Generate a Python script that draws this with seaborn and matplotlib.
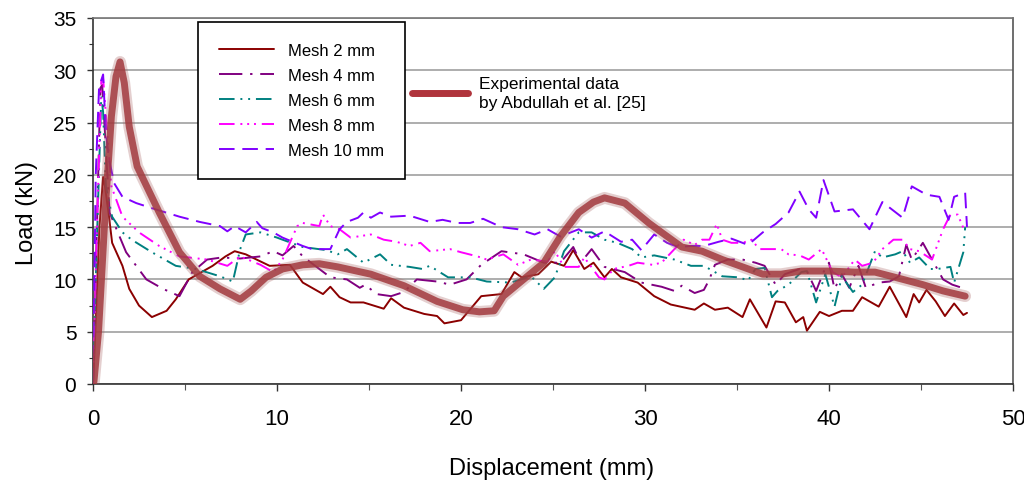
import numpy as np
import pandas as pd
import matplotlib
matplotlib.use("Agg")
import matplotlib.pyplot as plt
import seaborn as sns

# ---------------- data ----------------
mesh2_x = [0, 0.15, 0.35, 0.55, 0.65, 0.87, 1.04, 1.6, 1.97, 2.5, 3.2, 4.0, 4.5, 5.2, 6.5, 7.2, 7.7, 8.3,
           9.6, 10.7, 11.4, 12.5, 12.9, 13.4, 14.0, 14.7, 15.8, 16.2, 16.9, 18.0, 18.7, 19.1, 20.0, 21.1,
           22.2, 22.9, 23.3, 24.2, 24.9, 25.6, 26.1, 26.7, 27.2, 27.8, 28.2, 28.7, 29.6, 30.5, 31.4, 32.7,
           33.2, 33.8, 34.5, 35.3, 35.7, 36.6, 37.1, 37.6, 38.2, 38.6, 38.8, 39.5, 40.0, 40.7, 41.3, 41.8,
           42.7, 43.3, 44.2, 44.6, 44.9, 45.3, 45.8, 46.3, 46.8, 47.3, 47.5]
mesh2_y = [0, 6, 15, 19.8, 18.9, 16.0, 13.5, 11.3, 9.1, 7.5, 6.4, 7.0, 8.1, 10.0, 11.3, 12.2, 12.7, 12.4,
           11.3, 11.4, 9.7, 8.6, 9.3, 8.3, 7.8, 7.8, 7.2, 8.2, 7.3, 6.7, 6.5, 5.8, 6.1, 8.4,
           8.6, 10.7, 10.2, 10.5, 11.7, 11.3, 12.8, 11.0, 11.6, 10.2, 11.0, 10.2, 9.7, 8.4, 7.6, 7.1,
           7.7, 7.1, 7.3, 6.4, 8.1, 5.4, 7.9, 7.8, 5.9, 6.4, 5.1, 6.9, 6.5, 7.0, 7.0, 8.3,
           7.4, 9.3, 6.4, 8.6, 7.8, 9.0, 7.9, 6.5, 7.7, 6.6, 6.8]

mesh4_x = [0, 0.2, 0.4, 0.5, 0.9, 1.8, 2.9, 3.8, 4.7, 5.4, 6.2, 7.0, 8.0, 9.1, 9.8, 10.3, 10.9, 11.4,
           12.3, 12.9, 13.8, 14.5, 14.8, 15.4, 16.2, 16.9, 17.6, 18.7, 19.4, 20.3, 21.1, 22.2, 23.4,
           24.5, 25.4, 26.1, 26.5, 27.1, 27.8, 28.9, 29.8, 30.9, 31.6, 32.0, 32.7, 33.2, 33.5, 33.8,
           34.5, 35.3, 36.0, 36.5, 37.1, 37.6, 38.4, 38.8, 39.3, 39.7, 40.0, 40.3, 40.7, 41.1, 41.6,
           42.0, 42.7, 43.3, 43.8, 44.2, 44.5, 45.1, 45.6, 46.2, 46.7, 47.4]
mesh4_y = [0, 14, 28.3, 28.6, 16.4, 12.6, 10.0, 9.1, 8.4, 10.7, 11.9, 12.1, 12.0, 12.2, 12.7, 12.3, 13.2, 12.2,
           11.0, 10.2, 10.0, 9.2, 9.5, 8.6, 8.4, 8.8, 10.0, 9.8, 9.5, 10.0, 11.4, 12.7, 12.4,
           11.6, 11.6, 13.1, 11.6, 12.9, 11.2, 10.7, 9.7, 9.3, 8.9, 9.4, 8.7, 9.0, 10.0, 11.4,
           11.9, 11.9, 11.6, 11.3, 9.5, 10.5, 11.0, 10.8, 8.9, 10.7, 11.6, 9.1, 10.5, 9.2, 11.3,
           9.2, 9.7, 9.8, 10.3, 13.3, 11.9, 13.5, 11.9, 10.0, 9.5, 9.1]

mesh6_x = [0, 0.2, 0.45, 0.55, 0.7, 1.04, 1.6, 2.1, 3.2, 4.5, 5.6, 6.9, 7.6, 8.0, 8.3, 9.1, 10.0, 10.3,
           11.4, 12.7, 13.3, 13.8, 14.7, 15.6, 16.2, 17.2, 17.9, 18.3, 19.3, 20.5, 21.4, 22.7, 23.8,
           24.5, 25.1, 25.6, 26.4, 27.1, 27.8, 28.5, 29.3, 29.8, 30.5, 31.6, 32.5, 33.2, 33.8, 34.2,
           35.1, 35.6, 36.0, 36.5, 36.9, 37.2, 37.8, 38.5, 38.8, 39.3, 39.8, 40.3, 40.7, 41.3, 41.8,
           42.5, 42.9, 43.6, 44.0, 44.4, 44.9, 45.5, 45.9, 46.6, 46.8, 47.3, 47.4]
mesh6_y = [0, 13, 27.5, 26, 18.9, 16, 14.5, 13.8, 12.6, 11.3, 11.0, 10.3, 9.8, 12.9, 14.3, 14.5, 14.0, 13.8,
           13.1, 12.8, 12.4, 12.9, 11.6, 12.4, 11.4, 11.2, 11.0, 11.3, 10.2, 10.2, 9.8, 9.7, 10.3,
           9.1, 10.2, 12.7, 14.5, 14.5, 13.8, 13.5, 12.9, 12.1, 12.3, 11.9, 11.3, 11.3, 10.7, 10.3,
           10.2, 9.9, 11.0, 11.1, 8.3, 8.9, 9.5, 10.7, 10.8, 7.8, 10.5, 7.4, 10.3, 8.8, 9.5,
           12.7, 12.1, 12.4, 12.7, 11.6, 12.1, 11.0, 11.0, 11.2, 9.7, 12.6, 15.0]

mesh8_x = [0, 0.2, 0.45, 0.55, 1.0, 1.6, 2.5, 3.6, 4.7, 6.2, 7.3, 8.0, 9.1, 9.8, 10.3, 11.1, 11.4, 12.3,
           12.5, 12.9, 13.4, 14.0, 15.1, 15.8, 16.5, 17.2, 17.8, 18.3, 19.4, 20.0, 20.9, 21.4, 22.3,
           23.1, 23.8, 24.7, 25.1, 25.6, 26.4, 26.7, 27.5, 27.8, 28.3, 29.1, 29.6, 30.4, 30.9, 31.6,
           32.1, 32.7, 33.1, 33.5, 33.9, 34.2, 34.7, 35.3, 35.8, 36.2, 36.7, 37.4, 37.8, 38.4, 38.9,
           39.6, 40.2, 40.7, 41.4, 41.8, 42.4, 42.9, 43.5, 44.0, 44.4, 44.9, 45.6, 46.2, 46.6, 47.0, 47.4]
mesh8_y = [0, 14, 29.0, 29.2, 18.9, 16.0, 14.5, 13.2, 12.2, 11.9, 11.3, 12.2, 11.4, 10.7, 11.9, 15.1, 15.4, 15.1,
           16.2, 15.1, 14.8, 14.0, 14.3, 13.8, 13.6, 13.2, 13.5, 12.7, 12.9, 12.6, 12.2, 11.9, 12.4,
           11.4, 11.9, 11.7, 12.7, 11.2, 11.2, 12.1, 10.2, 10.0, 11.0, 11.3, 11.6, 11.4, 11.6, 12.9,
           13.8, 13.3, 13.8, 13.8, 15.3, 13.8, 13.5, 13.5, 13.8, 12.9, 12.9, 12.9, 12.4, 12.3, 11.9,
           12.9, 10.7, 10.2, 11.9, 11.3, 11.6, 12.9, 13.8, 13.8, 12.9, 12.7, 11.9, 14.8, 16.2, 16.2, 14.5]

mesh10_x = [0, 0.15, 0.33, 0.55, 0.7, 0.87, 1.15, 1.6, 2.35, 3.4, 4.7, 5.8, 6.9, 7.3, 7.7, 8.3, 8.9, 9.2,
            9.8, 10.3, 11.4, 11.9, 12.9, 13.4, 13.8, 14.4, 14.7, 15.1, 15.6, 16.2, 17.2, 18.3, 19.0,
            19.8, 20.5, 21.2, 22.2, 23.1, 24.0, 24.7, 25.4, 26.4, 27.1, 27.8, 28.7, 29.3, 29.8, 30.5,
            31.2, 31.8, 32.5, 33.2, 34.0, 34.7, 35.3, 35.6, 36.4, 37.1, 37.8, 38.4, 38.9, 39.3, 39.7,
            40.3, 41.3, 42.2, 42.9, 44.0, 44.5, 45.3, 46.0, 46.5, 46.8, 47.4, 47.5]
mesh10_y = [0, 20, 28.4, 29.6, 24.0, 21.5, 19.2, 17.9, 17.3, 16.7, 16.0, 15.5, 15.1, 14.6, 15.1, 14.5, 15.5, 14.9,
            14.5, 14.0, 13.2, 12.9, 12.9, 14.8, 15.5, 15.9, 16.4, 15.9, 16.4, 16.0, 16.1, 15.5, 15.7,
            15.4, 15.4, 15.8, 15.0, 14.8, 14.3, 14.8, 14.1, 14.8, 14.0, 14.6, 13.6, 13.8, 12.8, 14.3,
            13.5, 13.1, 13.2, 13.2, 13.6, 13.9, 13.5, 13.3, 14.5, 15.3, 16.4, 18.4, 16.7, 15.9, 19.5,
            16.5, 16.7, 14.8, 17.4, 15.9, 18.9, 18.1, 17.9, 15.7, 17.9, 18.3, 15.0]

exp_x = [0.05, 0.3, 0.5, 0.7, 1.0, 1.25, 1.47, 1.7, 1.97, 2.4, 3.0, 3.6, 4.7, 5.8, 6.9, 8.0, 8.6, 9.4,
         10.3, 11.4, 12.3, 13.3, 15.1, 16.9, 18.7, 20.1, 21.0, 21.8, 22.3, 23.4, 24.5, 25.4, 26.4,
         27.2, 27.8, 28.9, 30.2, 30.9, 32.0, 33.1, 34.2, 35.3, 36.4, 37.4, 38.5, 40.0, 41.4, 42.5,
         43.6, 45.1, 46.2, 47.4]
exp_y = [0.2, 5, 11.3, 17.6, 25.6, 29.4, 30.8, 28.8, 24.6, 20.8, 18.6, 16.4, 12.6, 10.3, 9.1, 8.1, 8.9, 10.2,
         11.0, 11.4, 11.5, 11.2, 10.5, 9.4, 7.9, 7.1, 6.9, 7.0, 8.4, 10.0, 11.6, 14.1, 16.4,
         17.4, 17.8, 17.3, 15.4, 14.5, 13.1, 12.7, 11.9, 11.2, 10.5, 10.5, 10.8, 10.8, 10.7, 10.7,
         10.2, 9.5, 8.9, 8.4]

x_ticks = [0, 10, 20, 30, 40, 50]
y_ticks = [0, 5, 10, 15, 20, 25, 30, 35]
mesh_labels = ["Mesh 2 mm", "Mesh 4 mm", "Mesh 6 mm", "Mesh 8 mm", "Mesh 10 mm"]
exp_label = "Experimental data\nby Abdullah et al. [25]"

# ---------------- styling ----------------
sns.set_theme(style="white")
plt.rcParams["font.family"] = ["Liberation Sans", "DejaVu Sans"]
plt.rcParams["text.color"] = "black"

fig = plt.figure(figsize=(10.24, 4.89), dpi=100)
ax = fig.add_axes([93 / 1024, 1 - 385 / 489, 920 / 1024, 366 / 489])

series = [
    (mesh2_x, mesh2_y, "#8B0000", "-"),
    (mesh4_x, mesh4_y, "#800080", (0, (12, 4, 1.2, 4))),
    (mesh6_x, mesh6_y, "#008080", (0, (8, 3, 1, 3, 1, 3))),
    (mesh8_x, mesh8_y, "#FF00FF", (0, (8, 3, 1, 2.5, 1, 2.5, 1, 3))),
    (mesh10_x, mesh10_y, "#8000FF", (0, (8, 4))),
]

handles = []
for (xs, ys, col, ls), lab in zip(series, mesh_labels):
    df = pd.DataFrame({"x": xs, "y": ys})
    sns.lineplot(data=df, x="x", y="y", ax=ax, color=col, linewidth=1.4,
                 sort=False, estimator=None, linestyle=ls, zorder=3)
    handles.append(ax.lines[-1])

# experimental (thick, softened)
dfe = pd.DataFrame({"x": exp_x, "y": exp_y})
sns.lineplot(data=dfe, x="x", y="y", ax=ax, color="#A86060", linewidth=8.5, alpha=0.3,
             sort=False, estimator=None, zorder=4, solid_capstyle="round")
sns.lineplot(data=dfe, x="x", y="y", ax=ax, color="#A23A3E", linewidth=5, alpha=0.85,
             sort=False, estimator=None, zorder=5, solid_capstyle="round")
exp_handle = plt.Line2D([], [], color="#B0343C", linewidth=5)

ax.set_xlim(0, 50)
ax.set_ylim(0, 35)
ax.set_xticks(x_ticks)
ax.set_yticks(y_ticks)
ax.set_xticks(np.arange(5, 50, 10), minor=True)
ax.set_yticks(np.arange(2.5, 35, 5), minor=True)
ax.tick_params(axis="y", which="major", direction="out", length=4, width=1, color="#333333",
               labelsize=15, pad=8, left=True, labelcolor="black")
ax.tick_params(axis="y", which="minor", direction="out", length=3, width=0.8, color="#333333", left=True)
ax.tick_params(axis="x", which="major", direction="out", length=5, width=1, color="#333333",
               labelsize=16, pad=12, bottom=True, labelcolor="black")
ax.tick_params(axis="x", which="minor", direction="out", length=4, width=0.8, color="#555555", bottom=True)

ax.yaxis.grid(True, color="#A0A0A0", linewidth=1.2)
ax.xaxis.grid(False)
for s in ax.spines.values():
    s.set_color("#333333")
    s.set_linewidth(1.2)
ax.spines["right"].set_color("#555555")
ax.spines["top"].set_color("#777777")

ax.set_xlabel("Displacement (mm)", fontsize=17, color="black")
ax.set_ylabel("Load (kN)", fontsize=17, color="black")
ax.xaxis.set_label_coords(0.498, -0.20)
ax.yaxis.set_label_coords(-0.06, 0.47)

leg1 = ax.legend(handles, mesh_labels, loc="upper left",
                 bbox_to_anchor=(198 / 1024, 1 - 23 / 489), bbox_transform=fig.transFigure,
                 borderaxespad=0, fontsize=12, frameon=True, fancybox=False,
                 edgecolor="black", framealpha=1, handlelength=3.3,
                 handletextpad=0.85, labelspacing=0.6, borderpad=1.25)
leg1.get_frame().set_linewidth(1.2)
for t in leg1.get_texts():
    t.set_color("black")
ax.add_artist(leg1)
leg2 = ax.legend([exp_handle], [exp_label], loc="upper left",
                 bbox_to_anchor=(405 / 1024, 1 - 70 / 489), bbox_transform=fig.transFigure,
                 borderaxespad=0, fontsize=12.5, frameon=False, handlelength=3.2,
                 handletextpad=0.65)
for t in leg2.get_texts():
    t.set_color("black")
    t.set_linespacing(1.35)

fig.savefig("out.png", dpi=100, facecolor="white")
